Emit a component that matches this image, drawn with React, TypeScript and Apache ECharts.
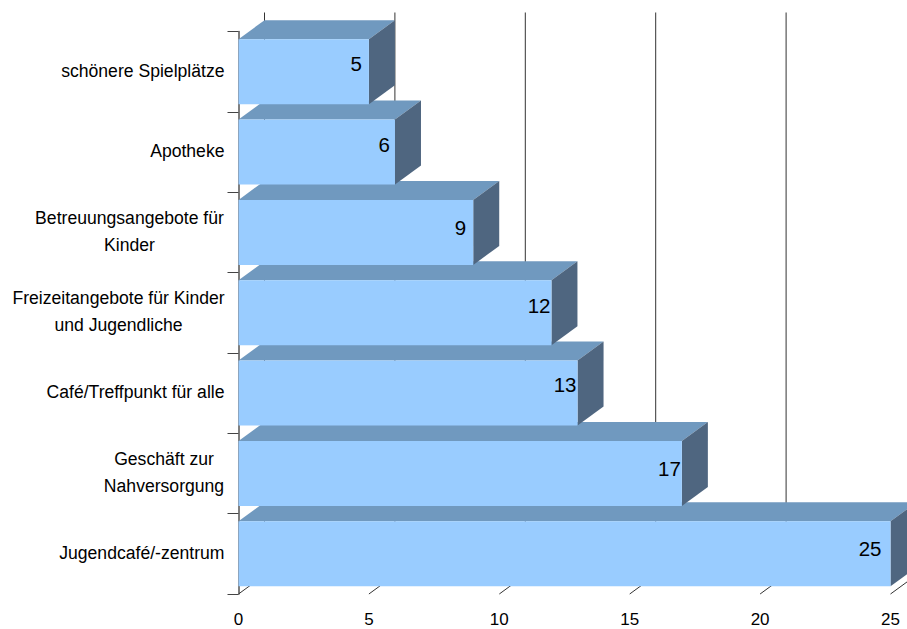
import React, { useEffect, useRef } from "react";
import * as echarts from "echarts";

const categoryLines = [
  ["Jugendcafé/-zentrum"],
  ["Geschäft zur", "Nahversorgung"],
  ["Café/Treffpunkt für alle"],
  ["Freizeitangebote für Kinder", "und Jugendliche"],
  ["Betreuungsangebote für", "Kinder"],
  ["Apotheke"],
  ["schönere Spielplätze"],
];
const values = [25, 17, 13, 12, 9, 6, 5];
const valueTicks = [0, 5, 10, 15, 20, 25];

// label nudges, same order as values
const labelDx = [-9, -1, -1, -1, -7, -5, -7];
const labelDy = [-5, -5, -9, -7, -5, -8, -8];
// block widths for centred two-line labels
const labelBlock = [0, 121, 0, 212, 190, 0, 0];

const FONT = "'Liberation Sans', Arial, sans-serif";
const CAT_SIZE = 17.6;
const DX = 26;
const DY = 19;
const BAR = 65;

const categories = categoryLines.map((l) => l.join("\n"));

export default function App() {
  const ref = useRef<HTMLDivElement>(null);
  useEffect(() => {
    const chart = echarts.init(ref.current!, undefined, { renderer: "svg" });
    const rich: any = {};
    labelBlock.forEach((w, i) => {
      if (w) rich["b" + i] = { width: w, align: "center", lineHeight: 27, fontSize: CAT_SIZE, fontFamily: FONT, color: "#000" };
    });
    chart.setOption({
      animation: false,
      grid: { left: 238.5, top: 31.5, width: 652, height: 562.5, containLabel: false, outerBoundsMode: "none" },
      xAxis: {
        type: "value",
        min: 0,
        max: 25,
        interval: 5,
        axisLine: { show: false },
        axisTick: { show: false },
        splitLine: { show: false },
        axisLabel: { margin: 17, fontSize: 17, color: "#000", fontFamily: FONT },
      },
      yAxis: {
        type: "category",
        data: categories,
        axisLine: { show: true, lineStyle: { color: "#555", width: 1.5 } },
        axisTick: { show: true, length: 11, alignWithLabel: false, lineStyle: { color: "#444" } },
        axisLabel: {
          margin: 14,
          fontSize: CAT_SIZE,
          lineHeight: 27,
          padding: [0, 0, 2, 0],
          color: "#000",
          fontFamily: FONT,
          formatter: (_: string, i: number) =>
            labelBlock[i]
              ? categoryLines[i].map((l) => `{b${i}|${l}}`).join("\n")
              : categoryLines[i].join("\n"),
          rich,
        },
      },
      series: [
        {
          type: "custom",
          z: 1,
          silent: true,
          data: valueTicks.map((v) => [v]),
          encode: { x: 0 },
          renderItem: (params: any, api: any) => {
            const x = api.coord([api.value(0), 0])[0];
            const cs = params.coordSys;
            const bottom = cs.y + cs.height;
            const style = { stroke: "#333", lineWidth: 1, fill: "none" };
            return {
              type: "group",
              children: [
                { type: "line", shape: { x1: x + DX, y1: cs.y - DY, x2: x + DX, y2: bottom - DY }, style },
                { type: "line", shape: { x1: x, y1: bottom, x2: x + DX, y2: bottom - DY }, style },
              ],
            };
          },
        },
        {
          type: "custom",
          z: 2,
          silent: true,
          data: values.map((v, i) => [v, i]),
          encode: { x: 0, y: 1 },
          renderItem: (_: any, api: any) => {
            const i = api.value(1);
            const [x1, cy] = api.coord([api.value(0), i]);
            const x0 = api.coord([0, i])[0];
            const t = cy - BAR / 2;
            const b = cy + BAR / 2;
            return {
              type: "group",
              children: [
                {
                  type: "polygon",
                  shape: { points: [[x0, t], [x0 + DX, t - DY], [x1 + DX, t - DY], [x1, t]] },
                  style: { fill: "#7099BF" },
                },
                {
                  type: "polygon",
                  shape: { points: [[x1, t], [x1 + DX, t - DY], [x1 + DX, b - DY], [x1, b]] },
                  style: { fill: "#4F6680" },
                },
                { type: "rect", shape: { x: x0, y: t, width: x1 - x0, height: BAR }, style: { fill: "#99CCFF" } },
                {
                  type: "text",
                  style: {
                    text: String(api.value(0)),
                    x: x1 + labelDx[i],
                    y: cy + labelDy[i],
                    textAlign: "right",
                    textVerticalAlign: "middle",
                    font: `20.5px ${FONT}`,
                    fill: "#000",
                  },
                },
              ],
            };
          },
        },
      ],
    });
    return () => chart.dispose();
  }, []);
  return <div ref={ref} style={{ width: 907, height: 629, position: "absolute", left: 0, top: 0 }} />;
}
